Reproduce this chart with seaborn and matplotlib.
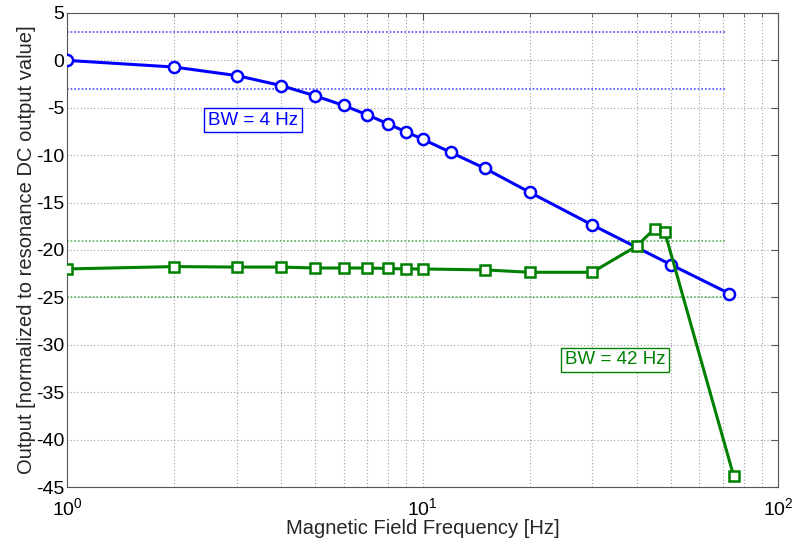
import numpy as np
import pandas as pd
import matplotlib
matplotlib.use("Agg")
import matplotlib.pyplot as plt
import seaborn as sns
from matplotlib.ticker import LogLocator, FixedLocator, NullFormatter

# Data
freq_bw4 = [1, 2, 3, 4, 5, 6, 7, 8, 9, 10, 12, 15, 20, 30, 50, 73]
out_bw4 = [0.0, -0.7, -1.6, -2.65, -3.75, -4.75, -5.75, -6.7, -7.55, -8.3,
           -9.7, -11.4, -13.9, -17.35, -21.55, -24.6]

freq_bw42 = [1, 2, 3, 4, 5, 6, 7, 8, 9, 10, 15, 20, 30, 40, 45, 48, 75]
out_bw42 = [-22.0, -21.75, -21.8, -21.8, -21.9, -21.9, -21.9, -21.95, -22.0,
            -22.0, -22.1, -22.35, -22.35, -19.6, -17.75, -18.05, -43.8]

bw4_limits = [3, -3]
bw42_limits = [-19, -25]
limit_x = [1, 72]

label_bw4 = "BW = 4 Hz"
label_bw42 = "BW = 42 Hz"
xlabel = "Magnetic Field Frequency [Hz]"
ylabel = "Output [normalized to resonance DC output value]"
yticks = list(range(-45, 6, 5))
xticks = [1, 10, 100]
xticklabels = [r"$10^{0}$", r"$10^{1}$", r"$10^{2}$"]

sns.set_style("white")
plt.rcParams['font.family'] = ['Liberation Sans', 'DejaVu Sans']
plt.rcParams['font.size'] = 14
plt.rcParams['axes.unicode_minus'] = False
plt.rcParams['mathtext.fontset'] = 'custom'
plt.rcParams['mathtext.rm'] = 'Liberation Sans'
plt.rcParams['mathtext.it'] = 'Liberation Sans'
plt.rcParams['mathtext.bf'] = 'Liberation Sans'

BLUE = (0, 0, 1)
GREEN = (0, 0.5, 0)

fig = plt.figure(figsize=(7.95, 5.48), dpi=100)
ax = fig.add_axes([0.0843, 0.1113, 0.8943, 0.865])

df4 = pd.DataFrame({"f": freq_bw4, "v": out_bw4})
df42 = pd.DataFrame({"f": freq_bw42, "v": out_bw42})

# reference dotted limit lines
for yv in bw4_limits:
    ax.plot(limit_x, [yv, yv], linestyle=(0, (1, 1.2)), color=(0.3, 0.3, 1.0), lw=1.2, zorder=2)
for yv in bw42_limits:
    ax.plot(limit_x, [yv, yv], linestyle=(0, (1, 1.2)), color=(0.35, 0.7, 0.35), lw=1.2, zorder=2)

sns.lineplot(data=df4, x="f", y="v", ax=ax, color=BLUE, lw=2.2, marker='o',
             markersize=8, markerfacecolor='white', markeredgecolor=BLUE,
             markeredgewidth=1.8, estimator=None, sort=False, zorder=4)
sns.lineplot(data=df42, x="f", y="v", ax=ax, color=GREEN, lw=2.2, marker='s',
             markersize=7.5, markerfacecolor='white', markeredgecolor=GREEN,
             markeredgewidth=1.8, estimator=None, sort=False, zorder=4)

ax.set_xscale('log')
ax.set_xlim(1, 100)
ax.set_ylim(-45, 5)
ax.yaxis.set_major_locator(FixedLocator(yticks))
ax.set_xticks(xticks)
ax.set_xticklabels(xticklabels)
ax.xaxis.set_minor_locator(LogLocator(base=10, subs=np.arange(2, 10), numticks=20))
ax.xaxis.set_minor_formatter(NullFormatter())

ax.grid(True, which='major', axis='both', linestyle=(0, (1, 2)), color='#a0a0a0', lw=0.8)
ax.grid(True, which='minor', axis='x', linestyle=(0, (1, 2)), color='#a0a0a0', lw=0.8)
ax.set_axisbelow(True)

for s in ax.spines.values():
    s.set_visible(True)
    s.set_color('#555555')
    s.set_linewidth(0.8)

ax.tick_params(which='both', direction='in', top=True, right=True, colors='#555555',
               labelcolor='black', labelsize=14)
ax.tick_params(which='major', length=5)
ax.tick_params(which='minor', length=3)
ax.tick_params(axis='y', pad=2)
ax.tick_params(axis='x', pad=7)

ax.set_xlabel(xlabel, fontsize=14.5, labelpad=0)
ax.set_ylabel(ylabel, fontsize=14.5, labelpad=0)

ax.text(3.34, -6.3, label_bw4, color=BLUE, fontsize=13.5, ha='center', va='center',
        bbox=dict(boxstyle='square,pad=0.2', facecolor='white', edgecolor=BLUE, lw=1))
ax.text(34.9, -31.6, label_bw42, color=GREEN, fontsize=13.5, ha='center', va='center',
        bbox=dict(boxstyle='square,pad=0.2', facecolor='white', edgecolor=GREEN, lw=1))

fig.savefig("out.png", dpi=100)
